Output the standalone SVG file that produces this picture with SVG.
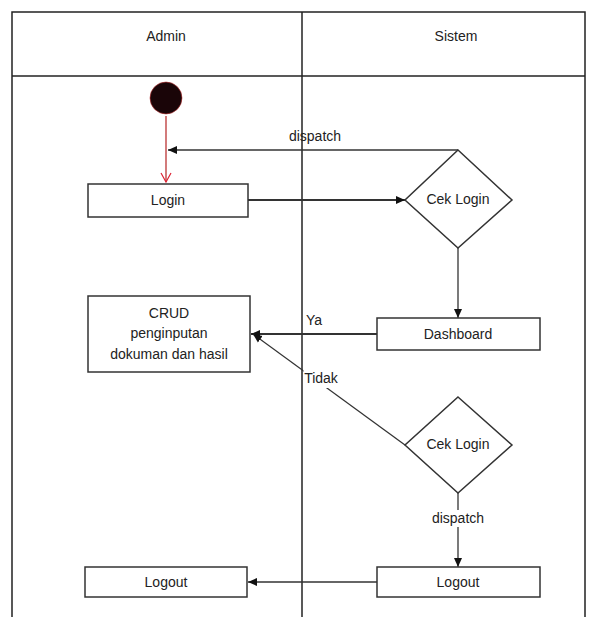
<svg xmlns="http://www.w3.org/2000/svg" width="596" height="617" viewBox="0 0 596 617">
<style>
text{font-family:"Liberation Sans",Arial,sans-serif;font-size:14px;fill:#222;text-anchor:middle;dominant-baseline:central}
.box{fill:#fff;stroke:#333;stroke-width:1.5}
.ln{fill:none;stroke:#333;stroke-width:1.3}
.lbl{fill:#fff}
</style>
<defs>
<marker id="ah" markerWidth="10" markerHeight="10" refX="9" refY="5" orient="auto" markerUnits="userSpaceOnUse"><path d="M0,1 L9,5 L0,9 Z" fill="#111"/></marker>
<marker id="ahr" markerWidth="12" markerHeight="12" refX="10" refY="6" orient="auto" markerUnits="userSpaceOnUse"><path d="M1,1 L10,6 L1,11" fill="none" stroke="#d23" stroke-width="1.2"/></marker>
</defs>
<rect width="596" height="617" fill="#fff"/>
<g id="lanes" fill="none" stroke="#222" stroke-width="1.5">
<path d="M12,617 V12 H585 V617"/>
<line x1="12" y1="76" x2="585" y2="76"/>
<line x1="302" y1="12" x2="302" y2="617"/>
</g>
<text x="166" y="36">Admin</text>
<text x="456" y="36">Sistem</text>
<g id="connectors">
<line class="ln" x1="166" y1="116" x2="166" y2="182" marker-end="url(#ahr)" style="stroke:#b33"/>
<line class="ln" x1="458" y1="150" x2="168" y2="150" marker-end="url(#ah)"/>
<line class="ln" x1="248" y1="200" x2="405" y2="200" marker-end="url(#ah)" style="stroke-width:2"/>
<line class="ln" x1="458" y1="248" x2="458" y2="318" marker-end="url(#ah)"/>
<line class="ln" x1="377" y1="334" x2="251" y2="334" marker-end="url(#ah)" style="stroke-width:2"/>
<line class="ln" x1="405" y1="445" x2="253" y2="334" marker-end="url(#ah)"/>
<line class="ln" x1="458" y1="493" x2="458" y2="567" marker-end="url(#ah)"/>
<line class="ln" x1="377" y1="582" x2="248" y2="582" marker-end="url(#ah)"/>
<text x="315" y="136">dispatch</text>
<text x="314" y="320">Ya</text>
<rect class="lbl" x="303.5" y="369" width="36" height="19"/>
<text x="321" y="378">Tidak</text>
<rect class="lbl" x="426" y="510" width="64" height="17"/>
<text x="458" y="518">dispatch</text>
</g>
<g id="start"><circle cx="166" cy="98" r="16" fill="#1a0508" stroke="#b33" stroke-width="0.6"/></g>
<g id="login"><rect class="box" x="88" y="184" width="160" height="33"/><text x="168" y="200">Login</text></g>
<g id="cek1"><polygon class="box" points="458,150 512,200 458,248 405,200"/><text x="458" y="199">Cek Login</text></g>
<g id="dashboard"><rect class="box" x="377" y="318" width="163" height="32"/><text x="458" y="334">Dashboard</text></g>
<g id="crud"><rect class="box" x="88" y="296" width="162" height="76"/><text x="169" y="313">CRUD</text><text x="169" y="333">penginputan</text><text x="169" y="354">dokuman dan hasil</text></g>
<g id="cek2"><polygon class="box" points="458,397 512,445 458,493 405,445"/><text x="458" y="444">Cek Login</text></g>
<g id="logout2"><rect class="box" x="377" y="567" width="163" height="30"/><text x="458" y="582">Logout</text></g>
<g id="logout1"><rect class="box" x="85" y="567" width="162" height="30"/><text x="166" y="582">Logout</text></g>
</svg>
